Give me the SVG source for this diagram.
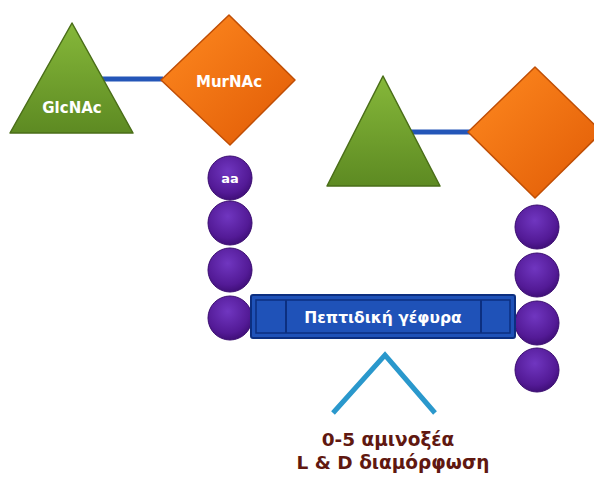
<svg xmlns="http://www.w3.org/2000/svg" width="594" height="477" viewBox="0 0 594 477">
<defs>
<linearGradient id="gTri" x1="0" y1="0" x2="0" y2="1"><stop offset="0" stop-color="#86b83a"/><stop offset="1" stop-color="#5d8a22"/></linearGradient>
<linearGradient id="gDia" x1="0" y1="0" x2="1" y2="1"><stop offset="0" stop-color="#ff8a20"/><stop offset="1" stop-color="#e05a05"/></linearGradient>
<radialGradient id="gBall" cx="0.45" cy="0.35" r="0.7"><stop offset="0" stop-color="#7036c0"/><stop offset="0.7" stop-color="#531a96"/><stop offset="1" stop-color="#3a0c70"/></radialGradient>
<style>
.tri{fill:url(#gTri);stroke:#4a6e18;stroke-width:1.5;stroke-linejoin:round}
.dia{fill:url(#gDia);stroke:#c04e05;stroke-width:1.5;stroke-linejoin:round}
.ball{fill:url(#gBall);stroke:#3a0c70;stroke-width:1}
.link{stroke:#2456b8;stroke-width:5;fill:none}
.lbl{font-family:"Comic Sans MS","DejaVu Sans",sans-serif;font-weight:bold;fill:#fff;text-anchor:middle}
.note{font-family:"Comic Sans MS","DejaVu Sans",sans-serif;font-weight:bold;fill:#601810;text-anchor:middle;font-size:18.5px}
</style>
</defs>
<rect width="594" height="477" fill="#ffffff"/>
<g id="connectors">
<line class="link" x1="100" y1="79" x2="163" y2="79"/>
<line class="link" x1="410" y1="132" x2="470" y2="132"/>
<polyline points="333,413 385,355 435,413" fill="none" stroke="#2a98cc" stroke-width="5"/>
</g>
<g id="glcnac1">
<polygon class="tri" points="72,23 133,133 10,133"/>
<text class="lbl" x="72" y="113" font-size="15">GlcNAc</text>
</g>
<g id="murnac1">
<polygon class="dia" points="229,15 295,80 230,145 161,80"/>
<text class="lbl" x="229" y="87" font-size="15">MurNAc</text>
</g>
<g id="glcnac2">
<polygon class="tri" points="383,76 440,186 327,186"/>
</g>
<g id="murnac2">
<polygon class="dia" points="535,67 602,132 535,198 468,132"/>
</g>
<g id="chain1">
<circle class="ball" cx="230" cy="178" r="22"/>
<text class="lbl" x="230" y="183" font-size="13">aa</text>
<circle class="ball" cx="230" cy="223" r="22"/>
<circle class="ball" cx="230" cy="270" r="22"/>
<circle class="ball" cx="230" cy="318" r="22"/>
</g>
<g id="chain2">
<circle class="ball" cx="537" cy="227" r="22"/>
<circle class="ball" cx="537" cy="275" r="22"/>
<circle class="ball" cx="537" cy="323" r="22"/>
<circle class="ball" cx="537" cy="370" r="22"/>
</g>
<g id="bridge">
<rect x="251" y="295" width="264" height="43" rx="2" fill="#1f52b8" stroke="#0c2f80" stroke-width="2"/>
<rect x="256" y="300" width="254" height="33" fill="none" stroke="#0c2f80" stroke-width="1.5"/>
<line x1="286" y1="300" x2="286" y2="333" stroke="#0c2f80" stroke-width="2"/>
<line x1="481" y1="300" x2="481" y2="333" stroke="#0c2f80" stroke-width="2"/>
<text class="lbl" x="383" y="322.5" font-size="15.5">Πεπτιδική γέφυρα</text>
</g>
<g id="caption">
<text class="note" x="388" y="446">0-5 αμινοξέα</text>
<text class="note" x="393" y="469">L &amp; D διαμόρφωση</text>
</g>
</svg>
